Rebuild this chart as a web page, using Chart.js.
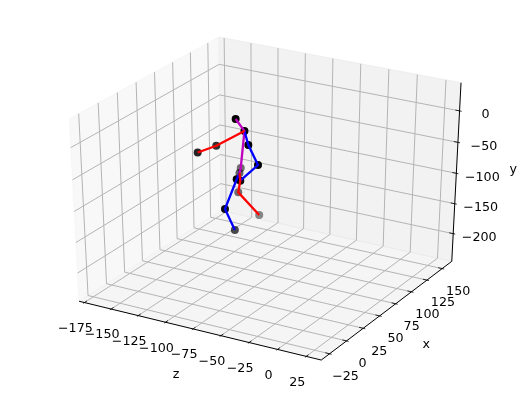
<!DOCTYPE html>
<html>
<head>
<meta charset="utf-8">
<style>
  html, body { margin: 0; padding: 0; background: #fff; }
  canvas { display: block; }
</style>
</head>
<body>
<canvas id="myChart" width="523" height="396"></canvas>
<script src="https://cdn.jsdelivr.net/npm/chart.js@4/dist/chart.umd.min.js"></script>
<script>
// tick labels of the three axes
const zTicks = [-175, -150, -125, -100, -75, -50, -25, 0, 25];
const xTicks = [-25, 0, 25, 50, 75, 100, 125, 150];
const yTicks = [0, -50, -100, -150, -200];

// axis ranges
const zRange = [-180, 38];
const xRange = [-37, 166];
const yRange = [-247, 44];

// joints of the skeleton
const jointNames = ["head", "neck", "rElbow", "rWrist", "lElbow", "lWrist", "spine", "pelvis", "lHip", "lKnee", "lFoot", "rHip", "rKnee", "rFoot"];
const jointZ = [-97.6, -91.6, -116.5, -125.3, -82.5, -70.9, -103.9, -101.5, -86.2, -88.3, -85.8, -85.4, -99.2, -82.7];
const jointX = [60.7, 63.5, 62.5, 49.9, 54.5, 49.6, 77.2, 71.6, 43.6, 30, 39.7, 47.4, 66, 70];
const jointY = [8.5, -9.9, -41.5, -46.9, -22.5, -46.3, -82.6, -85.9, -70.5, -109.1, -149.3, -75.1, -112.3, -145.9];

// bones, as chains of joint names
const redBones = [["neck", "rElbow", "rWrist"], ["pelvis", "rHip", "rKnee", "rFoot"]];
const blueBones = [["neck", "lElbow", "lWrist", "rHip"], ["pelvis", "lHip", "lKnee", "lFoot"]];
const magentaBones = [["head", "neck", "spine", "pelvis"]];

// camera of a default 3d plot: elev 30, azim -60, dist 10
const camU = [0.866, 0.5, 0];
const camV = [-0.25, 0.433, 0.866];
const camW = [0.433, -0.75, 0.5];
const camDist = 10;

function boxCoords(z, x, y) {
    return [
        (z - zRange[0]) / (zRange[1] - zRange[0]) - 0.5,
        (x - xRange[0]) / (xRange[1] - xRange[0]) - 0.5,
        (y - yRange[0]) / (yRange[1] - yRange[0]) - 0.5
    ];
}

function dot(a, b) {
    return a[0] * b[0] + a[1] * b[1] + a[2] * b[2];
}

function project(z, x, y) {
    let p = boxCoords(z, x, y);
    let d = camDist - dot(p, camW);
    return { x: dot(p, camU) / d, y: dot(p, camV) / d };
}

const gap = { x: NaN, y: NaN };
const zLo = zRange[0], zHi = zRange[1], xLo = xRange[0], xHi = xRange[1], yLo = yRange[0], yHi = yRange[1];

// grid lines run along the floor and up the back walls
let gridPts = [];
zTicks.forEach(t => gridPts.push(project(t, xLo, yLo), project(t, xHi, yLo), project(t, xHi, yHi), gap));
xTicks.forEach(t => gridPts.push(project(zHi, t, yLo), project(zLo, t, yLo), project(zLo, t, yHi), gap));
yTicks.forEach(t => gridPts.push(project(zHi, xHi, t), project(zLo, xHi, t), project(zLo, xLo, t), gap));

// small tick marks, 1/120 out and 1/60 in
let tickPts = [];
let dz = (zHi - zLo) / 120, dx = (xHi - xLo) / 120;
zTicks.forEach(t => tickPts.push(project(t, xLo - dx, yLo), project(t, xLo + 2 * dx, yLo), gap));
xTicks.forEach(t => tickPts.push(project(zHi + dz, t, yLo), project(zHi - 2 * dz, t, yLo), gap));
yTicks.forEach(t => tickPts.push(project(zHi + dz, xHi, t), project(zHi - 2 * dz, xHi, t), gap));

function lineSet(data, color, width, order) {
    return { type: "scatter", data: data, showLine: true, borderColor: color, borderWidth: width, pointRadius: 0, fill: false, order: order };
}

function paneSet(data, color) {
    return { type: "scatter", data: data, showLine: true, borderColor: color, backgroundColor: color, borderWidth: 1, pointRadius: 0, fill: "shape", order: 10 };
}

function boneSet(chains, color) {
    let pts = [];
    chains.forEach(chain => {
        chain.forEach(name => {
            let i = jointNames.indexOf(name);
            pts.push(project(jointZ[i], jointX[i], jointY[i]));
        });
        pts.push(gap);
    });
    return lineSet(pts, color, 2.3, 1);
}

// nearer joints are darker, like depth shading
let jointColors = jointZ.map((z, i) => {
    let depth = dot(boxCoords(z, jointX[i], jointY[i]), camW);
    let a = Math.max(0.45, Math.min(1, 0.45 + (depth + 0.12) * 2.5));
    return "rgba(0,0,0," + a.toFixed(2) + ")";
});

const textColor = "#000";
const tickFont = "12.7px 'DejaVu Sans'";

function minus(v) {
    return String(v).replace("-", "\u2212");
}

const axisText = {
    id: "axisText",
    afterDraw(chart) {
        let c = chart.ctx, sx = chart.scales.x, sy = chart.scales.y;
        let put = function (txt, p, ox, oy) {
            c.fillText(txt, sx.getPixelForValue(p.x) + ox, sy.getPixelForValue(p.y) + oy);
        };
        c.save();
        c.font = tickFont;
        c.fillStyle = textColor;
        c.textAlign = "center";
        c.textBaseline = "middle";
        zTicks.forEach(t => put(minus(t), project(t, xLo, yLo), -9, 26));
        xTicks.forEach(t => put(minus(t), project(zHi, t, yLo), 16, 23));
        yTicks.forEach(t => put(minus(t), project(zHi, xHi, t), 26, 4));
        put("z", project(-75, xLo, yLo), -17, 46);
        put("x", project(zHi, 62, yLo), 39, 35);
        put("y", project(zHi, xHi, -100), 57, -4);
        c.restore();
    }
};

new Chart(document.getElementById("myChart"), {
    type: "scatter",
    data: {
        datasets: [
            paneSet([project(zLo, xLo, yLo), project(zLo, xHi, yLo), project(zLo, xHi, yHi), project(zLo, xLo, yHi), project(zLo, xLo, yLo)], "rgba(242,242,242,0.5)"),
            paneSet([project(zLo, xHi, yLo), project(zHi, xHi, yLo), project(zHi, xHi, yHi), project(zLo, xHi, yHi), project(zLo, xHi, yLo)], "rgba(230,230,230,0.5)"),
            paneSet([project(zLo, xLo, yLo), project(zHi, xLo, yLo), project(zHi, xHi, yLo), project(zLo, xHi, yLo), project(zLo, xLo, yLo)], "rgba(236,236,236,0.5)"),
            lineSet(gridPts, "#b4b4b4", 1, 9),
            lineSet([project(zLo, xLo, yLo), project(zHi, xLo, yLo), project(zHi, xHi, yLo), project(zHi, xHi, yHi)], "#000", 1, 8),
            lineSet(tickPts, "#000", 0.8, 8),
            {
                type: "scatter",
                data: jointZ.map((z, i) => project(z, jointX[i], jointY[i])),
                pointRadius: 4,
                pointBorderWidth: 0,
                pointBackgroundColor: jointColors,
                order: 2
            },
            boneSet(redBones, "#ff0000"),
            boneSet(blueBones, "#0000ff"),
            boneSet(magentaBones, "#bf00bf")
        ]
    },
    options: {
        responsive: false,
        animation: false,
        layout: { padding: 0, autoPadding: false },
        plugins: { legend: { display: false }, tooltip: { enabled: false }, title: { display: false } },
        scales: {
            x: { display: false, min: -268.3 / 2796, max: 254.7 / 2796 },
            y: { display: false, min: -203 / 2083, max: 193 / 2083 }
        }
    },
    plugins: [axisText]
});
</script>
</body>
</html>
